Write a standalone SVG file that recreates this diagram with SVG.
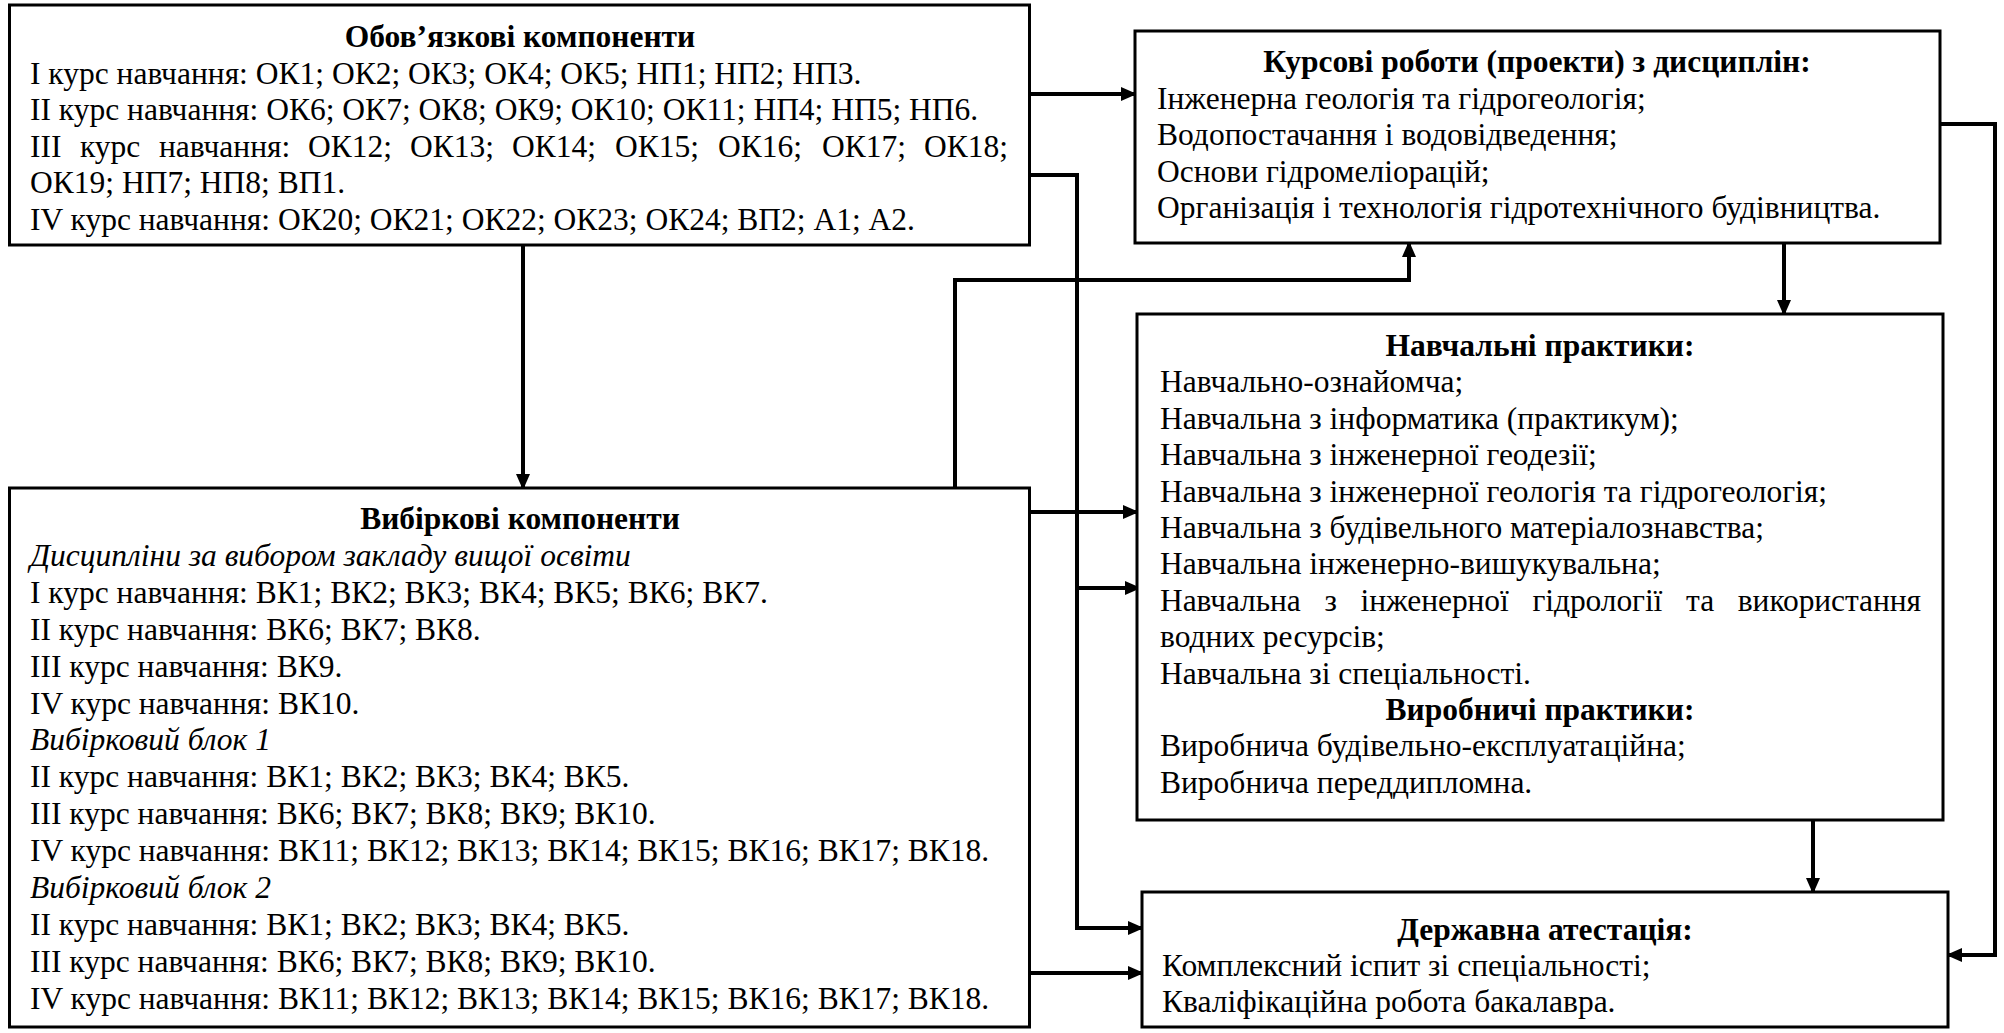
<svg xmlns="http://www.w3.org/2000/svg" width="2004" height="1033" viewBox="0 0 2004 1033">
<style>
.box{fill:#fff;stroke:#000;stroke-width:3}
.t{font-family:"Liberation Serif","Times New Roman",serif;font-size:31.5px;fill:#000}
.b{font-weight:bold;text-anchor:middle}
.i{font-style:italic}
.c{fill:none;stroke:#000;stroke-width:4}
</style>
<defs>
<marker id="ah" markerUnits="userSpaceOnUse" markerWidth="16" markerHeight="14" refX="14" refY="7" orient="auto">
<path d="M0,0 L16,7 L0,14 z" fill="#000"/>
</marker>
</defs>
<rect width="2004" height="1033" fill="#fff"/>
<g id="connectors">
<path class="c" d="M1030,94 H1135" marker-end="url(#ah)"/>
<path class="c" d="M523,245 V488" marker-end="url(#ah)"/>
<path class="c" d="M1030,175 H1077 V928 H1142" marker-end="url(#ah)"/>
<path class="c" d="M1077,588 H1139" marker-end="url(#ah)"/>
<path class="c" d="M955,488 V280 H1409 V243" marker-end="url(#ah)"/>
<path class="c" d="M1030,512 H1137" marker-end="url(#ah)"/>
<path class="c" d="M1030,973 H1142" marker-end="url(#ah)"/>
<path class="c" d="M1784,243 V314" marker-end="url(#ah)"/>
<path class="c" d="M1813,820 V892" marker-end="url(#ah)"/>
<path class="c" d="M1940,124 H1995 V955 H1948" marker-end="url(#ah)"/>
</g>
<g id="obov">
<rect class="box" x="9.5" y="5" width="1020" height="240"/>
<text class="t b" x="520" y="47">Обов’язкові компоненти</text>
<text class="t" x="30" y="83.6">I курс навчання: ОК1; ОК2; ОК3; ОК4; ОК5; НП1; НП2; НП3.</text>
<text class="t" x="30" y="120.2">II курс навчання: ОК6; ОК7; ОК8; ОК9; ОК10; ОК11; НП4; НП5; НП6.</text>
<text class="t" y="156.8"><tspan x="30">III</tspan><tspan x="80">курс</tspan><tspan x="159">навчання:</tspan><tspan x="308">ОК12;</tspan><tspan x="410">ОК13;</tspan><tspan x="512">ОК14;</tspan><tspan x="615">ОК15;</tspan><tspan x="718">ОК16;</tspan><tspan x="822">ОК17;</tspan><tspan x="924">ОК18;</tspan></text>
<text class="t" x="30" y="193.4">ОК19; НП7; НП8; ВП1.</text>
<text class="t" x="30" y="230">IV курс навчання: ОК20; ОК21; ОК22; ОК23; ОК24; ВП2; А1; А2.</text>
</g>
<g id="kursovi">
<rect class="box" x="1135" y="31" width="805" height="212"/>
<text class="t b" x="1537" y="72">Курсові роботи (проекти) з дисциплін:</text>
<text class="t" x="1157" y="108.6">Інженерна геологія та гідрогеологія;</text>
<text class="t" x="1157" y="145.2">Водопостачання і водовідведення;</text>
<text class="t" x="1157" y="181.8">Основи гідромеліорацій;</text>
<text class="t" x="1157" y="218.4">Організація і технологія гідротехнічного будівництва.</text>
</g>
<g id="praktyky">
<rect class="box" x="1137" y="314" width="806" height="506"/>
<text class="t b" x="1540" y="356">Навчальні практики:</text>
<text class="t" x="1160" y="392.4">Навчально-ознайомча;</text>
<text class="t" x="1160" y="428.8">Навчальна з інформатика (практикум);</text>
<text class="t" x="1160" y="465.2">Навчальна з інженерної геодезії;</text>
<text class="t" x="1160" y="501.6">Навчальна з інженерної геологія та гідрогеологія;</text>
<text class="t" x="1160" y="538">Навчальна з будівельного матеріалознавства;</text>
<text class="t" x="1160" y="574.4">Навчальна інженерно-вишукувальна;</text>
<text class="t" x="1160" y="610.8" word-spacing="16" textLength="761" lengthAdjust="spacing">Навчальна з інженерної гідрології та використання</text>
<text class="t" x="1160" y="647.2">водних ресурсів;</text>
<text class="t" x="1160" y="683.6">Навчальна зі спеціальності.</text>
<text class="t b" x="1540" y="720">Виробничі практики:</text>
<text class="t" x="1160" y="756.4">Виробнича будівельно-експлуатаційна;</text>
<text class="t" x="1160" y="792.8">Виробнича переддипломна.</text>
</g>
<g id="vybirkovi">
<rect class="box" x="9.5" y="488" width="1020" height="539"/>
<text class="t b" x="520" y="529">Вибіркові компоненти</text>
<text class="t i" x="30" y="565.9">Дисципліни за вибором закладу вищої освіти</text>
<text class="t" x="30" y="602.8">I курс навчання: ВК1; ВК2; ВК3; ВК4; ВК5; ВК6; ВК7.</text>
<text class="t" x="30" y="639.7">II курс навчання: ВК6; ВК7; ВК8.</text>
<text class="t" x="30" y="676.6">III курс навчання: ВК9.</text>
<text class="t" x="30" y="713.5">IV курс навчання: ВК10.</text>
<text class="t i" x="30" y="750.4">Вибірковий блок 1</text>
<text class="t" x="30" y="787.3">II курс навчання: ВК1; ВК2; ВК3; ВК4; ВК5.</text>
<text class="t" x="30" y="824.2">III курс навчання: ВК6; ВК7; ВК8; ВК9; ВК10.</text>
<text class="t" x="30" y="861.1">IV курс навчання: ВК11; ВК12; ВК13; ВК14; ВК15; ВК16; ВК17; ВК18.</text>
<text class="t i" x="30" y="898">Вибірковий блок 2</text>
<text class="t" x="30" y="934.9">II курс навчання: ВК1; ВК2; ВК3; ВК4; ВК5.</text>
<text class="t" x="30" y="971.8">III курс навчання: ВК6; ВК7; ВК8; ВК9; ВК10.</text>
<text class="t" x="30" y="1008.7">IV курс навчання: ВК11; ВК12; ВК13; ВК14; ВК15; ВК16; ВК17; ВК18.</text>
</g>
<g id="atestatsiia">
<rect class="box" x="1142" y="892" width="806" height="135"/>
<text class="t b" x="1545" y="940">Державна атестація:</text>
<text class="t" x="1162" y="976">Комплексний іспит зі спеціальності;</text>
<text class="t" x="1162" y="1012">Кваліфікаційна робота бакалавра.</text>
</g>
</svg>
